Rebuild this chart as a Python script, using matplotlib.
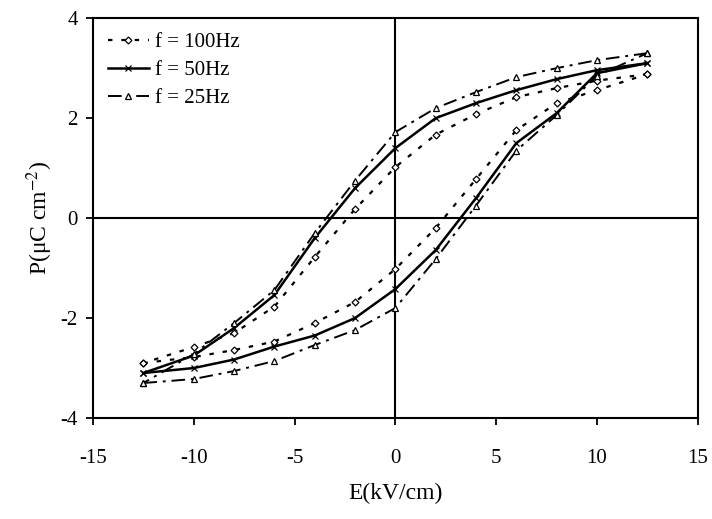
import numpy as np
from matplotlib import pyplot as plt

plt.rcParams['font.family'] = ['Liberation Serif', 'DejaVu Serif']
plt.rcParams['mathtext.fontset'] = 'stix'
plt.rcParams['axes.unicode_minus'] = False

# field values, kV/cm (upper branch runs +12.5 -> -12.5, lower branch -12.5 -> +12.5)
e_down = [12.5, 10, 8, 6, 4, 2, 0, -2, -4, -6, -8, -10, -12.5]
e_up = [-12.5, -10, -8, -6, -4, -2, 0, 2, 4, 6, 8, 10, 12.5]

# polarisation, uC/cm^2
p100_down = [2.88, 2.75, 2.6, 2.42, 2.08, 1.67, 1.02, 0.18, -0.78, -1.77, -2.3, -2.58, -2.9]
p100_up = [-2.9, -2.78, -2.64, -2.47, -2.1, -1.68, -1.02, -0.2, 0.78, 1.76, 2.3, 2.56, 2.88]

p50_down = [3.1, 2.96, 2.78, 2.56, 2.3, 2.0, 1.4, 0.6, -0.4, -1.54, -2.2, -2.75, -3.1]
p50_up = [-3.1, -3.0, -2.83, -2.57, -2.35, -2.0, -1.42, -0.64, 0.4, 1.5, 2.1, 2.9, 3.1]

p25_down = [3.3, 3.16, 3.0, 2.82, 2.52, 2.2, 1.72, 0.75, -0.3, -1.44, -2.1, -2.72, -3.3]
p25_up = [-3.3, -3.22, -3.06, -2.86, -2.54, -2.24, -1.8, -0.82, 0.25, 1.35, 2.06, 2.85, 3.3]

labels = ['f = 100Hz', 'f = 50Hz', 'f = 25Hz']

fig = plt.figure(figsize=(7.12, 5.19), dpi=100)
ax = fig.add_axes([0.1306, 0.1946, 0.8494, 0.7704])

ax.axhline(0, color='black', lw=1.5, zorder=1)
ax.axvline(0, color='black', lw=1.5, zorder=1)

styles = [
    dict(marker='D', ms=3.5, ls=(0, (2, 4)), lw=1.6),
    dict(marker='x', ms=4, ls='-', lw=1.8),
    dict(marker='^', ms=4, ls=(0, (7, 3, 1.5, 3)), lw=1.4),
]
series = [(p100_down, p100_up), (p50_down, p50_up), (p25_down, p25_up)]

for (down, up), st, lab in zip(series, styles, labels):
    kw = dict(color='black', mfc='white', mec='black', mew=0.9, **st)
    ax.plot(e_down, down, label=lab, **kw)
    ax.plot(e_up, up, **kw)

ax.set_xlim(-15, 15)
ax.set_ylim(-4, 4)
ax.set_xticks(np.arange(-15, 16, 5))
ax.set_yticks(np.arange(-4, 5, 2))
ax.tick_params(direction='out', length=5, width=1.3, labelsize=15)
ax.tick_params(axis='x', pad=17)
ax.tick_params(axis='y', pad=6)
for s in ax.spines.values():
    s.set_linewidth(1.5)

ax.set_xlabel('E(kV/cm)', fontsize=17, labelpad=11)
ax.set_ylabel('P(μC cm$^{-2}$)', fontsize=17, labelpad=4)

ax.legend(loc='upper left', frameon=False, fontsize=15, handlelength=2.0,
          handletextpad=0.3, labelspacing=0.4, borderaxespad=0.3)

fig.savefig('out.png', dpi=100)
